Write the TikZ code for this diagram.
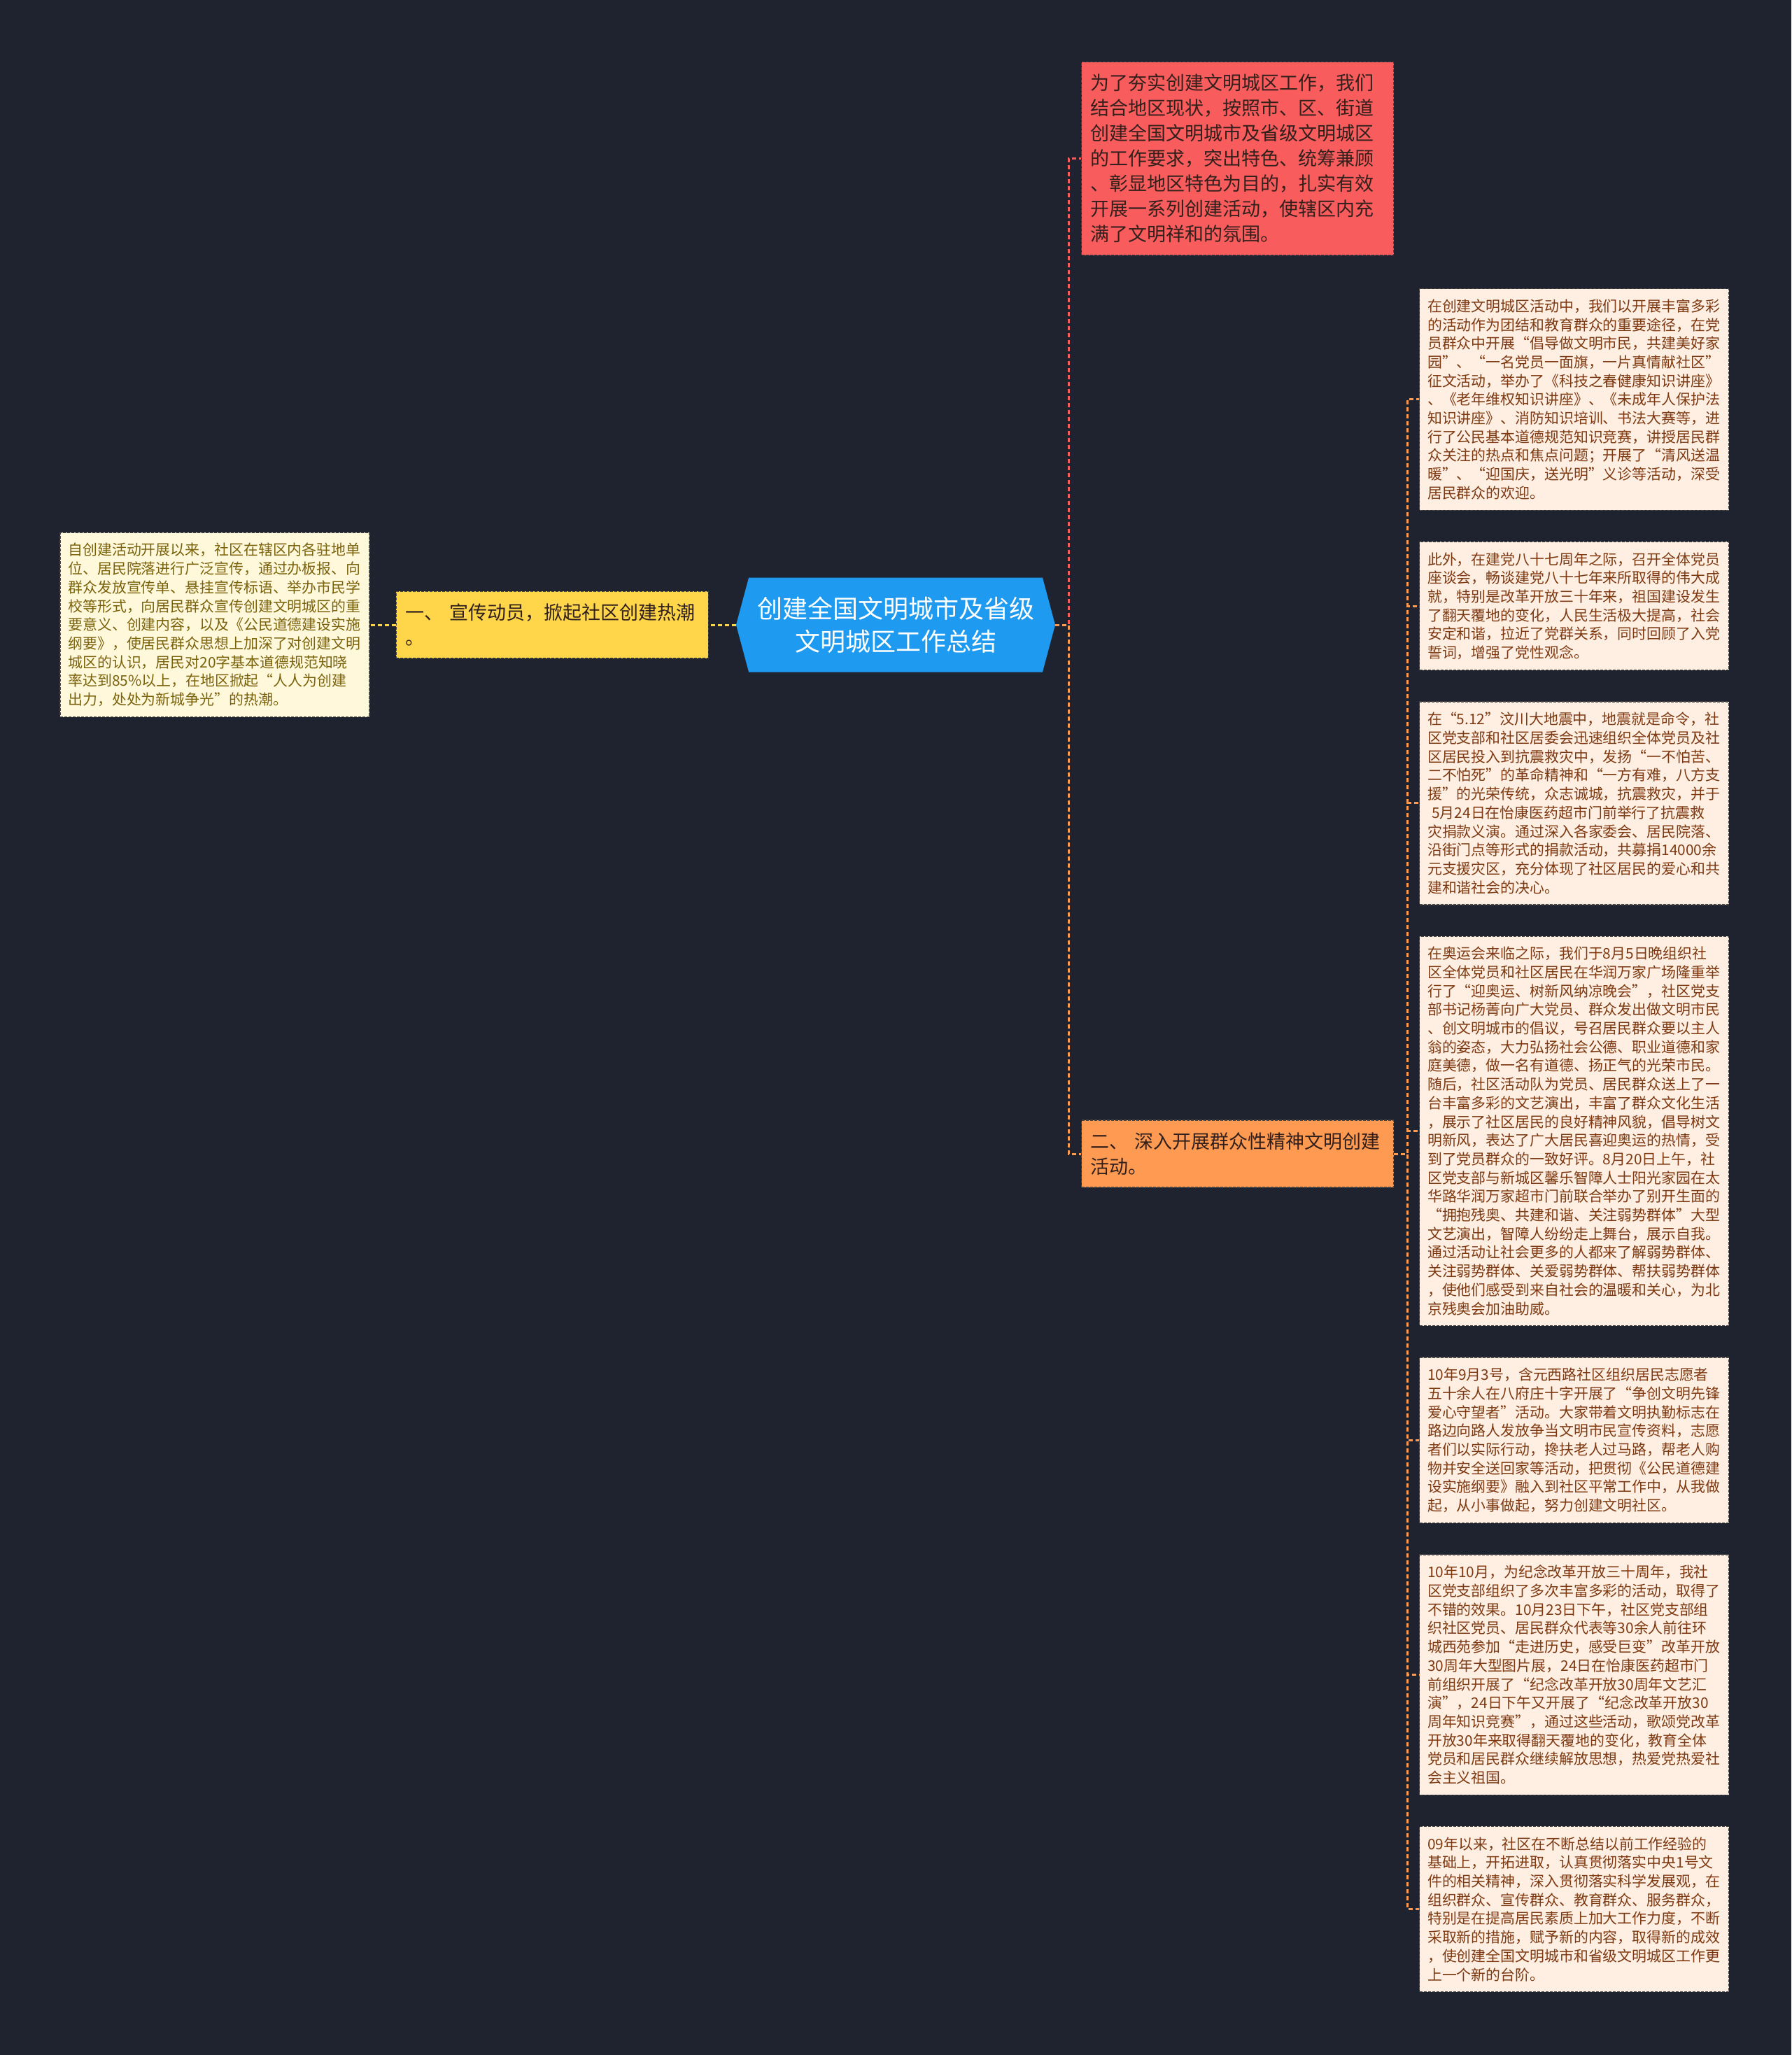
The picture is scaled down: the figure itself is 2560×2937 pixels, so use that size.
\documentclass[tikz,border=0pt]{standalone}
\usepackage{fontspec}
\setmainfont{Noto Sans CJK SC}
\usepackage{tikz}
\usetikzlibrary{shapes.symbols,positioning}
\definecolor{pagebg}{RGB}{31,35,48}
\definecolor{hubblue}{RGB}{30,155,240}
\definecolor{introred}{RGB}{248,92,92}
\definecolor{partyellow}{RGB}{255,214,74}
\definecolor{partorange}{RGB}{255,154,82}
\definecolor{leafpeach}{RGB}{255,238,226}
\definecolor{leafcream}{RGB}{255,248,218}
\definecolor{leafbrown}{RGB}{125,58,18}
\definecolor{leafolive}{RGB}{122,98,12}
\definecolor{topictext}{RGB}{50,32,28}
\definecolor{edgegray}{RGB}{70,70,70}

\begin{document}
\begin{tikzpicture}[x=1pt, y=-1pt,
  hub/.style={signal, signal to=east and west, signal pointer angle=150, fill=hubblue, text=white, align=center, minimum width=456pt, minimum height=135pt, inner sep=0pt, font=\fontsize{36}{47}\selectfont},
  topic/.style={draw=edgegray, dash pattern=on 4pt off 2pt, line width=1.2pt, text=topictext, text width=420pt, inner xsep=13pt, inner ysep=17.5pt, align=left, font=\fontsize{27}{36}\selectfont},
  leaf/.style={draw=edgegray, dash pattern=on 4pt off 2pt, line width=1.2pt, fill=leafpeach, text=leafbrown, text width=419pt, inner xsep=11.5pt, inner ysep=15pt, align=left, font=\fontsize{20.9}{26.7}\selectfont},
  link/.style={line width=3pt, dash pattern=on 6pt off 4pt}]
\fill[pagebg] (0,0) rectangle (2560,2937);
\useasboundingbox (0,0) rectangle (2560,2937);

\node[hub] (root) at (1280,893) {创建全国文明城市及省级\\文明城区工作总结};

% left branch
\node[topic, fill=partyellow, left=39pt of root] (part1) {一、 宣传动员，掀起社区创建热潮\\。};
\node[leaf, fill=leafcream, text=leafolive, left=37pt of part1] (part1text) {自创建活动开展以来，社区在辖区内各驻地单\\位、居民院落进行广泛宣传，通过办板报、向\\群众发放宣传单、悬挂宣传标语、举办市民学\\校等形式，向居民群众宣传创建文明城区的重\\要意义、创建内容，以及《公民道德建设实施\\纲要》，使居民群众思想上加深了对创建文明\\城区的认识，居民对20字基本道德规范知晓\\率达到85\%以上，在地区掀起“人人为创建\\出力，处处为新城争光”的热潮。};

% right branch
\node[topic, fill=introred, anchor=north west] (intro) at (1545,88) {为了夯实创建文明城区工作，我们\\结合地区现状，按照市、区、街道\\创建全国文明城市及省级文明城区\\的工作要求，突出特色、统筹兼顾\\、彰显地区特色为目的，扎实有效\\开展一系列创建活动，使辖区内充\\满了文明祥和的氛围。};
\node[topic, fill=partorange, anchor=west] (part2) at (1545,1649) {二、 深入开展群众性精神文明创建\\活动。};

\node[leaf, anchor=north west] (act1) at (2028,412) {在创建文明城区活动中，我们以开展丰富多彩\\的活动作为团结和教育群众的重要途径，在党\\员群众中开展“倡导做文明市民，共建美好家\\园”、“一名党员一面旗，一片真情献社区”\\征文活动，举办了《科技之春健康知识讲座》\\、《老年维权知识讲座》、《未成年人保护法\\知识讲座》、消防知识培训、书法大赛等，进\\行了公民基本道德规范知识竞赛，讲授居民群\\众关注的热点和焦点问题；开展了“清风送温\\暖”、“迎国庆，送光明”义诊等活动，深受\\居民群众的欢迎。};
\node[leaf, below=44pt of act1] (act2) {此外，在建党八十七周年之际，召开全体党员\\座谈会，畅谈建党八十七年来所取得的伟大成\\就，特别是改革开放三十年来，祖国建设发生\\了翻天覆地的变化，人民生活极大提高，社会\\安定和谐，拉近了党群关系，同时回顾了入党\\誓词，增强了党性观念。};
\node[leaf, below=44pt of act2] (act3) {在“5.12”汶川大地震中，地震就是命令，社\\区党支部和社区居委会迅速组织全体党员及社\\区居民投入到抗震救灾中，发扬“一不怕苦、\\二不怕死”的革命精神和“一方有难，八方支\\援”的光荣传统，众志诚城，抗震救灾，并于\\\hspace*{0.3em}5月24日在怡康医药超市门前举行了抗震救\\灾捐款义演。通过深入各家委会、居民院落、\\沿街门点等形式的捐款活动，共募捐14000余\\元支援灾区，充分体现了社区居民的爱心和共\\建和谐社会的决心。};
\node[leaf, below=44pt of act3] (act4) {在奥运会来临之际，我们于8月5日晚组织社\\区全体党员和社区居民在华润万家广场隆重举\\行了“迎奥运、树新风纳凉晚会”，社区党支\\部书记杨菁向广大党员、群众发出做文明市民\\、创文明城市的倡议，号召居民群众要以主人\\翁的姿态，大力弘扬社会公德、职业道德和家\\庭美德，做一名有道德、扬正气的光荣市民。\\随后，社区活动队为党员、居民群众送上了一\\台丰富多彩的文艺演出，丰富了群众文化生活\\，展示了社区居民的良好精神风貌，倡导树文\\明新风，表达了广大居民喜迎奥运的热情，受\\到了党员群众的一致好评。8月20日上午，社\\区党支部与新城区馨乐智障人士阳光家园在太\\华路华润万家超市门前联合举办了别开生面的\\“拥抱残奥、共建和谐、关注弱势群体”大型\\文艺演出，智障人纷纷走上舞台，展示自我。\\通过活动让社会更多的人都来了解弱势群体、\\关注弱势群体、关爱弱势群体、帮扶弱势群体\\，使他们感受到来自社会的温暖和关心，为北\\京残奥会加油助威。};
\node[leaf, below=44pt of act4] (act5) {10年9月3号，含元西路社区组织居民志愿者\\五十余人在八府庄十字开展了“争创文明先锋\\爱心守望者”活动。大家带着文明执勤标志在\\路边向路人发放争当文明市民宣传资料，志愿\\者们以实际行动，搀扶老人过马路，帮老人购\\物并安全送回家等活动，把贯彻《公民道德建\\设实施纲要》融入到社区平常工作中，从我做\\起，从小事做起，努力创建文明社区。};
\node[leaf, below=44pt of act5] (act6) {10年10月，为纪念改革开放三十周年，我社\\区党支部组织了多次丰富多彩的活动，取得了\\不错的效果。10月23日下午，社区党支部组\\织社区党员、居民群众代表等30余人前往环\\城西苑参加“走进历史，感受巨变”改革开放\\30周年大型图片展，24日在怡康医药超市门\\前组织开展了“纪念改革开放30周年文艺汇\\演”，24日下午又开展了“纪念改革开放30\\周年知识竞赛”，通过这些活动，歌颂党改革\\开放30年来取得翻天覆地的变化，教育全体\\党员和居民群众继续解放思想，热爱党热爱社\\会主义祖国。};
\node[leaf, below=44pt of act6] (act7) {09年以来，社区在不断总结以前工作经验的\\基础上，开拓进取，认真贯彻落实中央1号文\\件的相关精神，深入贯彻落实科学发展观，在\\组织群众、宣传群众、教育群众、服务群众，\\特别是在提高居民素质上加大工作力度，不断\\采取新的措施，赋予新的内容，取得新的成效\\，使创建全国文明城市和省级文明城区工作更\\上一个新的台阶。};

% connectors
\draw[link, partyellow] (root.west) -- (part1.east);
\draw[link, partyellow] (part1.west) -- (part1text.east);
\draw[link, introred] (root.east) -- ++(19,0) |- (intro.west);
\draw[link, partorange] (root.east) -- ++(19,0) |- (part2.west);
\foreach \n in {1,...,7}
  \draw[link, partorange] (part2.east) -- ++(19,0) |- (act\n.west);
\end{tikzpicture}
\end{document}
